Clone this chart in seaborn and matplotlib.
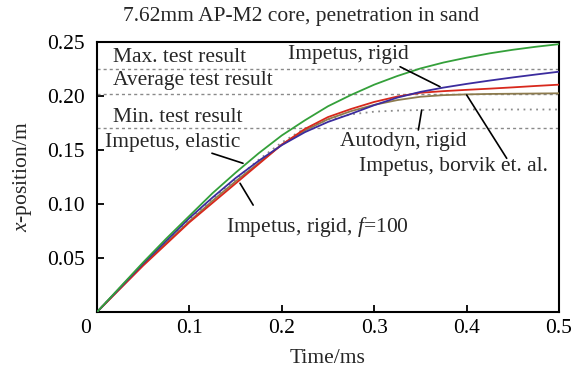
import numpy as np
import pandas as pd
import matplotlib
matplotlib.use("Agg")
import matplotlib.pyplot as plt
import matplotlib.transforms as mtransforms
import seaborn as sns

# ---- data ----
time_ms = [0.0, 0.025, 0.05, 0.075, 0.10, 0.125, 0.15, 0.175, 0.20, 0.225, 0.25,
           0.275, 0.30, 0.325, 0.35, 0.375, 0.40, 0.425, 0.45, 0.475, 0.50]
impetus_elastic = [0.0, 0.023, 0.046, 0.068, 0.089, 0.110, 0.129, 0.147, 0.1635, 0.1775, 0.1905,
                   0.201, 0.2105, 0.2185, 0.2255, 0.231, 0.2355, 0.2395, 0.2428, 0.2456, 0.248]
impetus_rigid = [0.0, 0.0225, 0.045, 0.066, 0.087, 0.106, 0.124, 0.140, 0.1545, 0.1665, 0.1760,
                 0.1835, 0.1915, 0.1985, 0.2038, 0.2078, 0.2112, 0.2143, 0.2172, 0.2199, 0.2225]
impetus_rigid_f100 = [0.0, 0.0215, 0.043, 0.063, 0.083, 0.101, 0.119, 0.137, 0.155, 0.1695, 0.1805,
                      0.1880, 0.1945, 0.1995, 0.203, 0.2045, 0.2057, 0.2068, 0.208, 0.2093, 0.2105]
impetus_borvik = [0.0, 0.022, 0.044, 0.064, 0.084, 0.103, 0.121, 0.138, 0.155, 0.168, 0.1785,
                  0.1860, 0.1918, 0.1962, 0.1993, 0.2008, 0.2015, 0.2019, 0.2021, 0.2023, 0.2025]
autodyn_rigid = [0.0, 0.0225, 0.045, 0.0655, 0.086, 0.105, 0.123, 0.141, 0.157, 0.170, 0.178,
                 0.183, 0.1855, 0.1865, 0.187, 0.1873, 0.1875, 0.1875, 0.1875, 0.1875, 0.1875]

test_labels = ["Max. test result", "Average test result", "Min. test result"]
test_values = [0.225, 0.202, 0.170]

x_ticks = [0.1, 0.2, 0.3, 0.4, 0.5]
y_ticks = [0.05, 0.10, 0.15, 0.20, 0.25]

sns.set_theme(style="white")
plt.rcParams["font.family"] = ["Liberation Serif", "DejaVu Serif"]
plt.rcParams["mathtext.fontset"] = "custom"
plt.rcParams["mathtext.it"] = "Liberation Serif:italic"
plt.rcParams["mathtext.rm"] = "Liberation Serif"

W, H = 583, 373
fig = plt.figure(figsize=(W / 100, H / 100), dpi=100)
fig.subplots_adjust(left=97 / W, right=559 / W, top=1 - 42 / H, bottom=1 - 312 / H)
ax = fig.add_subplot(111)

fs = 15.5

# test result reference lines
for v in test_values:
    ax.axhline(v, color="#8a8a8a", lw=1.0, ls=(0, (2.2, 2.2)), zorder=1)

series = [
    ("Autodyn, rigid", autodyn_rigid, "#8c8c8c", (0, (1, 2.5))),
    ("Impetus, borvik et. al.", impetus_borvik, "#8d7b4e", "-"),
    ("Impetus, rigid, f=100", impetus_rigid_f100, "#d8281c", "-"),
    ("Impetus, rigid", impetus_rigid, "#3b2c9e", "-"),
    ("Impetus, elastic", impetus_elastic, "#34a03a", "-"),
]
for name, vals, col, ls in series:
    df = pd.DataFrame({"t": time_ms, "x": vals})
    sns.lineplot(data=df, x="t", y="x", ax=ax, color=col, lw=1.3,
                 linestyle=ls, zorder=3, estimator=None)

ax.set_xlim(0, 0.5)
ax.set_ylim(0, 0.25)
ax.set_xticks([0.0] + x_ticks)
ax.set_xticklabels(["0"] + [f"{v:g}" for v in x_ticks])
ax.set_yticks(y_ticks)
ax.set_yticklabels([f"{v:.2f}" for v in y_ticks])
ax.tick_params(axis="both", direction="in", length=5, width=1.3,
               labelsize=fs, colors="black", bottom=True, left=True,
               top=False, right=False)
ax.tick_params(axis="x", pad=5)
ax.tick_params(axis="y", pad=9)
# shift the "0" label left of the origin
lbl0 = ax.get_xticklabels()[0]
lbl0.set_transform(lbl0.get_transform() +
                   mtransforms.ScaledTranslation(-11 / 100, 0, fig.dpi_scale_trans))
ax.xaxis.get_major_ticks()[0].tick1line.set_visible(False)

for s in ax.spines.values():
    s.set_visible(True)
    s.set_color("black")
    s.set_linewidth(1.5)

ax.set_xlabel("Time/ms", fontsize=fs, labelpad=8)
ax.set_ylabel(r"$x$-position/m", fontsize=fs, labelpad=9)
fig.text(301 / W, 1 - 17 / H, "7.62mm AP-M2 core, penetration in sand",
         fontsize=fs, ha="center", va="center")

# test result labels
ty = [0.236, 0.214, 0.1805]
for lab, y in zip(test_labels, ty):
    ax.text(0.017, y, lab, fontsize=fs, ha="left", va="center")

# annotations with pointer lines
ann = [
    ("Impetus, elastic", (0.009, 0.157), "left", (0.1244, 0.147), (0.158, 0.1377)),
    ("Impetus, rigid, $f$=100", (0.1396, 0.0787), "left", (0.169, 0.099), (0.1548, 0.1192)),
    ("Impetus, rigid", (0.2716, 0.238), "center", (0.328, 0.2271), (0.3712, 0.2086)),
    ("Autodyn, rigid", (0.331, 0.1577), "center", (0.3478, 0.1685), (0.3514, 0.187)),
    ("Impetus, borvik et. al.", (0.386, 0.1345), "center", (0.4434, 0.1423), (0.4001, 0.2009)),
]
for txt, pos, ha, p0, p1 in ann:
    ax.text(pos[0], pos[1], txt, fontsize=fs, ha=ha, va="center", zorder=5)
    ax.plot([p0[0], p1[0]], [p0[1], p1[1]], color="black", lw=1.2, zorder=4)

fig.savefig("out.png", dpi=100)
